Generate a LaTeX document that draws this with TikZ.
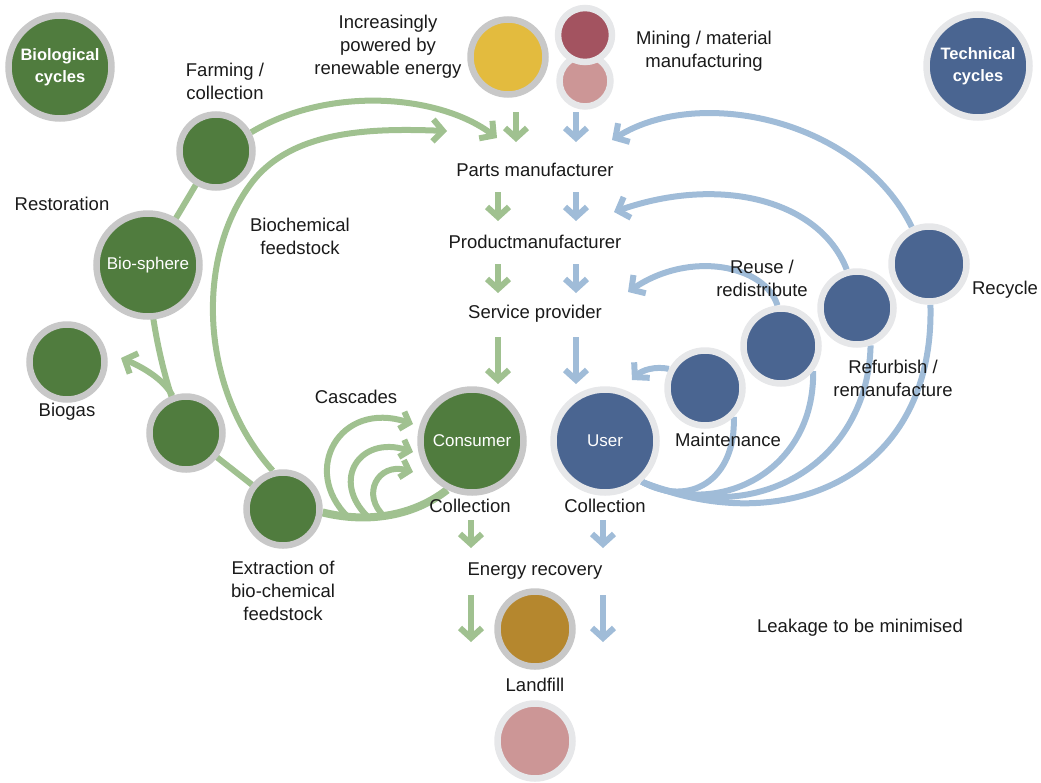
\documentclass[tikz,border=0pt]{standalone}
\usepackage{fontspec}
\setmainfont{Liberation Sans}
\usetikzlibrary{arrows.meta}
\definecolor{gfill}{HTML}{507C3E}
\definecolor{bfill}{HTML}{4A6591}
\definecolor{gring}{HTML}{C8C8C8}
\definecolor{bring}{HTML}{E6E7E9}
\definecolor{gline}{HTML}{A0C190}
\definecolor{bline}{HTML}{A0BCD8}
\definecolor{yfill}{HTML}{E3BB3E}
\definecolor{mred}{HTML}{A35360}
\definecolor{mpink}{HTML}{CC9696}
\definecolor{brownfill}{HTML}{B5872E}
\definecolor{txt}{HTML}{1A1A1A}
\pgfdeclarelayer{bg}
\pgfsetlayers{bg,main}
\begin{document}
\begin{tikzpicture}[x=1pt,y=-1pt,
  every node/.style={font=\fontsize{18.5}{23}\selectfont, text=txt, inner sep=0pt},
  ball/.style={circle, line width=6.5pt, minimum size=#1},
  gball/.style={ball=#1, draw=gring, fill=gfill, text=white, font=\fontsize{17}{22}\selectfont},
  bball/.style={ball=#1, draw=bring, fill=bfill, text=white, font=\fontsize{17}{22}\selectfont},
  lbl/.style={align=center},
  boldlbl/.style={align=center, font=\fontsize{16.5}{22}\selectfont\bfseries},
  gcon/.style={draw=gline, line width=6pt},
  bcon/.style={draw=bline, line width=6pt},
  gtip/.style={-{Straight Barb[length=10pt,width=22pt]}},
  stip/.style={-{Straight Barb[length=8pt,width=18pt]}},
]
\useasboundingbox (0,0) rectangle (1041,782);

% ---- nodes ----
\node[gball=103, boldlbl, text=white] (biocyc) at (60,67) {Biological\\cycles};
\node[bball=103, boldlbl, text=white] (techcyc) at (978,66) {Technical\\cycles};
\node[gball=73] (farm) at (216,151) {};
\node[gball=103] (bio) at (148,265) {Bio-sphere};
\node[gball=75] (biogas) at (67,362) {};
\node[gball=73] (n3) at (186,433) {};
\node[gball=73] (ext) at (283,509) {};
\node[gball=103] (cons) at (472,441) {Consumer};
\node[bball=103] (user) at (605,441) {User};
\node[bball=75] (maint) at (705,388) {};
\node[bball=75] (reuse) at (781,346) {};
\node[bball=73] (refurb) at (857,308) {};
\node[bball=75] (recyc) at (929,264) {};
\node[ball=75, draw=gring, fill=yfill] (sun) at (508,57) {};
\node[ball=51, draw=bring, fill=mpink] (mine2) at (585,81) {};
\node[ball=54, draw=bring, fill=mred] (mine1) at (585,35) {};
\node[ball=75, draw=gring, fill=brownfill] (energy) at (535,629) {};
\node[ball=75, draw=bring, fill=mpink] (landfill) at (535,741) {};

% ---- labels ----
\node[lbl] (farmlbl) at (225,81) {Farming /\\collection};
\node[lbl] (renew) at (388,47) {Increasingly\\powered by\\renewable energy};
\node[lbl] (mining) at (704,51) {Mining / material\\manufacturing};
\node[lbl] (restor) at (62,204) {Restoration};
\node[lbl] (biochem) at (300,236) {Biochemical\\feedstock};
\node[lbl] (biogaslbl) at (67,412) {Biogas};
\node[lbl] (casc) at (356,397) {Cascades};
\node[lbl] (coll1) at (470,506) {Collection};
\node[lbl] (coll2) at (605,506) {Collection};
\node[lbl] (extlbl) at (283,591) {Extraction of\\bio-chemical\\feedstock};
\node[lbl] (energylbl) at (535,571) {Energy recovery};
\node[lbl] (landlbl) at (535,685) {Landfill};
\node[lbl] (leak) at (860,628) {Leakage to be minimised};
\node[lbl] (parts) at (535,170) {Parts manufacturer};
\node[lbl] (product) at (535,242) {Productmanufacturer};
\node[lbl] (service) at (535,314) {Service provider};
\node[lbl] (maintlbl) at (728,440) {Maintenance};
\node[lbl] (reuselbl) at (762,278) {Reuse /\\redistribute};
\node[lbl] (refurblbl) at (893,378) {Refurbish /\\remanufacture};
\node[lbl] (recyclbl) at (1005,290) {Recycle};

% ---- coordinates for free ends ----
\coordinate (g1s) at (516,112); \coordinate (g1e) at (516,142);
\coordinate (b1s) at (576,112); \coordinate (b1e) at (576,142);
\coordinate (g2s) at (498,192); \coordinate (g2e) at (498,221);
\coordinate (b2s) at (576,192); \coordinate (b2e) at (576,221);
\coordinate (g3s) at (498,264); \coordinate (g3e) at (498,293);
\coordinate (b3s) at (576,264); \coordinate (b3e) at (576,293);
\coordinate (g4s) at (498,337); \coordinate (g4e) at (498,384);
\coordinate (b4s) at (576,337); \coordinate (b4e) at (576,384);
\coordinate (g5s) at (471,520); \coordinate (g5e) at (471,548);
\coordinate (b5s) at (603,520); \coordinate (b5e) at (603,548);
\coordinate (g6s) at (471,595); \coordinate (g6e) at (471,642);
\coordinate (b6s) at (603,595); \coordinate (b6e) at (603,642);
\coordinate (outerend) at (497,138);
\coordinate (innerend) at (447,131);
\coordinate (biogasend) at (121,358);
\coordinate (c1s) at (348,517); \coordinate (c1e) at (413,424);
\coordinate (c2s) at (368,517); \coordinate (c2e) at (413,452);
\coordinate (c3s) at (385,517); \coordinate (c3e) at (413,472);
\coordinate (recycend) at (612,140);
\coordinate (refurbend) at (614,212);
\coordinate (reuseend) at (628,292);
\coordinate (maintend) at (632,380);

\begin{pgfonlayer}{bg}
% straight down arrows
\foreach \a in {1,...,6}{
  \draw[gcon, gtip] (g\a s) -- (g\a e);
  \draw[bcon, gtip] (b\a s) -- (b\a e);
}
% biological loops
\draw[gcon, gtip] (farm.28) .. controls (330,85) and (440,95) .. (outerend);
\draw[gcon, gtip] (ext.105) .. controls (200,390) and (195,260) .. (250,185)
   .. controls (290,130) and (370,128) .. (innerend);
\draw[gcon] (farm.center) -- (bio.center);
\draw[gcon] (bio.center) .. controls (150,320) and (165,390) .. (n3.center);
\draw[gcon] (n3.center) -- (ext.center);
\draw[gcon, gtip] (n3.110) .. controls (163,378) and (140,366) .. (biogasend);
\draw[draw=gline, line width=8pt] (ext.355) .. controls (370,524) and (415,515) .. (cons.243);
\draw[gcon, stip] (c1s) .. controls (300,470) and (340,400) .. (c1e);
\draw[gcon, stip] (c2s) .. controls (330,480) and (360,435) .. (c2e);
\draw[gcon, stip] (c3s) .. controls (360,495) and (378,462) .. (c3e);
% technical loops
\draw[bcon, gtip] (recyc.115) .. controls (860,120) and (700,85) .. (recycend);
\draw[bcon, gtip] (refurb.105) .. controls (820,200) and (720,175) .. (refurbend);
\draw[bcon, gtip] (reuse.95) .. controls (765,265) and (690,250) .. (reuseend);
\draw[bcon, gtip] (maint.152) .. controls (655,366) and (642,370) .. (maintend);
\draw[bcon] (user.312) .. controls (690,508) and (736,480) .. (maint.315);
\draw[bcon] (user.312) .. controls (720,520) and (815,470) .. (reuse.322);
\draw[bcon] (user.312) .. controls (760,530) and (868,460) .. (refurb.290);
\draw[bcon] (user.312) .. controls (780,540) and (935,480) .. (recyc.272);
\end{pgfonlayer}
\end{tikzpicture}
\end{document}
